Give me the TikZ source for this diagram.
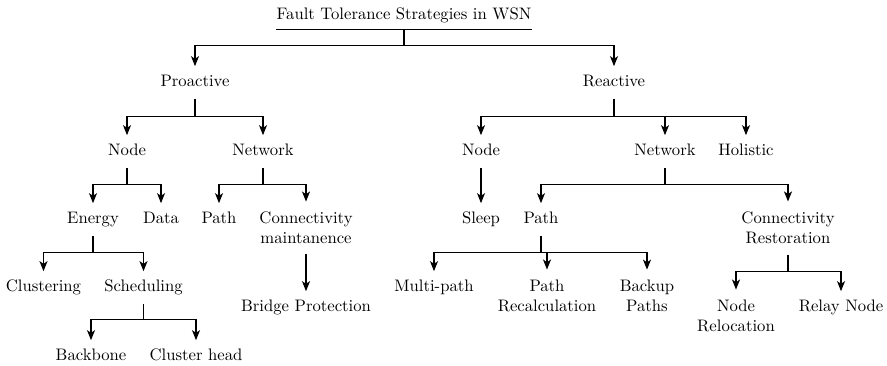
\documentclass[tikz,border=0pt]{standalone}
\usetikzlibrary{arrows.meta}
\begin{document}
\begin{tikzpicture}[x=0.6pt,y=-0.6pt,
  lbl/.style={inner xsep=1pt,inner ysep=5.1pt,text height=7pt,text depth=2pt,font=\fontsize{10}{12}\selectfont},
  two/.style={inner xsep=1pt,inner ysep=6.1pt,align=center,font=\fontsize{10}{12}\selectfont},
  ttl/.style={inner xsep=0pt,inner ysep=3.6pt,text height=7pt,text depth=2pt,font=\fontsize{10}{12}\selectfont},
  link/.style={line width=0.8pt},
  arr/.style={line width=0.8pt,-{Stealth[length=6pt,width=4.8pt,inset=1.6pt]}},
  line join=miter]
\useasboundingbox (0,0) rectangle (887,366);
% nodes
\node[ttl] (t) at (404,15.5) {Fault Tolerance Strategies in WSN};
\node[lbl] (pro) at (195,82.5) {Proactive};
\node[lbl] (rea) at (614,82.5) {Reactive};
\node[lbl] (pnode) at (127,151.5) {Node};
\node[lbl] (pnet) at (263,151.5) {Network};
\node[lbl] (en) at (93,219.5) {Energy};
\node[lbl] (da) at (161,219.5) {Data};
\node[lbl] (pa) at (219,219.5) {Path};
\node[two] (cm) at (306,228) {Connectivity\\maintanence};
\node[lbl] (cl) at (43.5,287.5) {Clustering};
\node[lbl] (sc) at (143.5,287.5) {Scheduling};
\node[lbl] (bb) at (91,356.5) {Backbone};
\node[lbl] (ch) at (196,356.5) {Cluster head};
\node[lbl] (bp) at (306,307.5) {Bridge Protection};
\node[lbl] (rnode) at (481,151.5) {Node};
\node[lbl] (rnet) at (665,151.5) {Network};
\node[lbl] (hol) at (746,151.5) {Holistic};
\node[lbl] (sl) at (481,219.5) {Sleep};
\node[lbl] (rpa) at (541,219.5) {Path};
\node[two] (cr) at (788,228) {Connectivity\\Restoration};
\node[lbl] (mp) at (434,287.5) {Multi-path};
\node[two] (prc) at (547,296) {Path\\Recalculation};
\node[two] (bk) at (647,296) {Backup\\Paths};
\node[two] (nr) at (736,316) {Node\\Relocation};
\node[lbl] (rn) at (841,307.5) {Relay Node};
% title underline
\draw[link] (t.south west) -- (t.south east);
% connectors
\draw[arr] (t.south) -- ++(0,16) -| (pro.north);
\draw[arr] (t.south) -- ++(0,16) -| (rea.north);
\draw[arr] (pro.south) -- ++(0,18) -| (pnode.north);
\draw[arr] (pro.south) -- ++(0,18) -| (pnet.north);
\draw[arr] (pnode.south) -- ++(0,17) -| (en.north);
\draw[arr] (pnode.south) -- ++(0,17) -| (da.north);
\draw[arr] (pnet.south) -- ++(0,17) -| (pa.north);
\draw[arr] (pnet.south) -- ++(0,17) -| (cm.north);
\draw[arr] (en.south) -- ++(0,17) -| (cl.north);
\draw[arr] (en.south) -- ++(0,17) -| (sc.north);
\draw[arr] (sc.south) -- ++(0,16) -| (bb.north);
\draw[arr] (sc.south) -- ++(0,16) -| (ch.north);
\draw[arr] (cm.south) -- (bp.north);
\draw[arr] (rea.south) -- ++(0,18) -| (rnode.north);
\draw[arr] (rea.south) -- ++(0,18) -| (rnet.north);
\draw[arr] (rea.south) -- ++(0,18) -| (hol.north);
\draw[arr] (rnode.south) -- (sl.north);
\draw[arr] (rnet.south) -- ++(0,17) -| (rpa.north);
\draw[arr] (rnet.south) -- ++(0,17) -| (cr.north);
\draw[arr] (rpa.south) -- ++(0,17) -| (mp.north);
\draw[arr] (rpa.south) -- ++(0,17) -| (prc.north);
\draw[arr] (rpa.south) -- ++(0,17) -| (bk.north);
\draw[arr] (cr.south) -- ++(0,17) -| (nr.north);
\draw[arr] (cr.south) -- ++(0,17) -| (rn.north);
\end{tikzpicture}
\end{document}
